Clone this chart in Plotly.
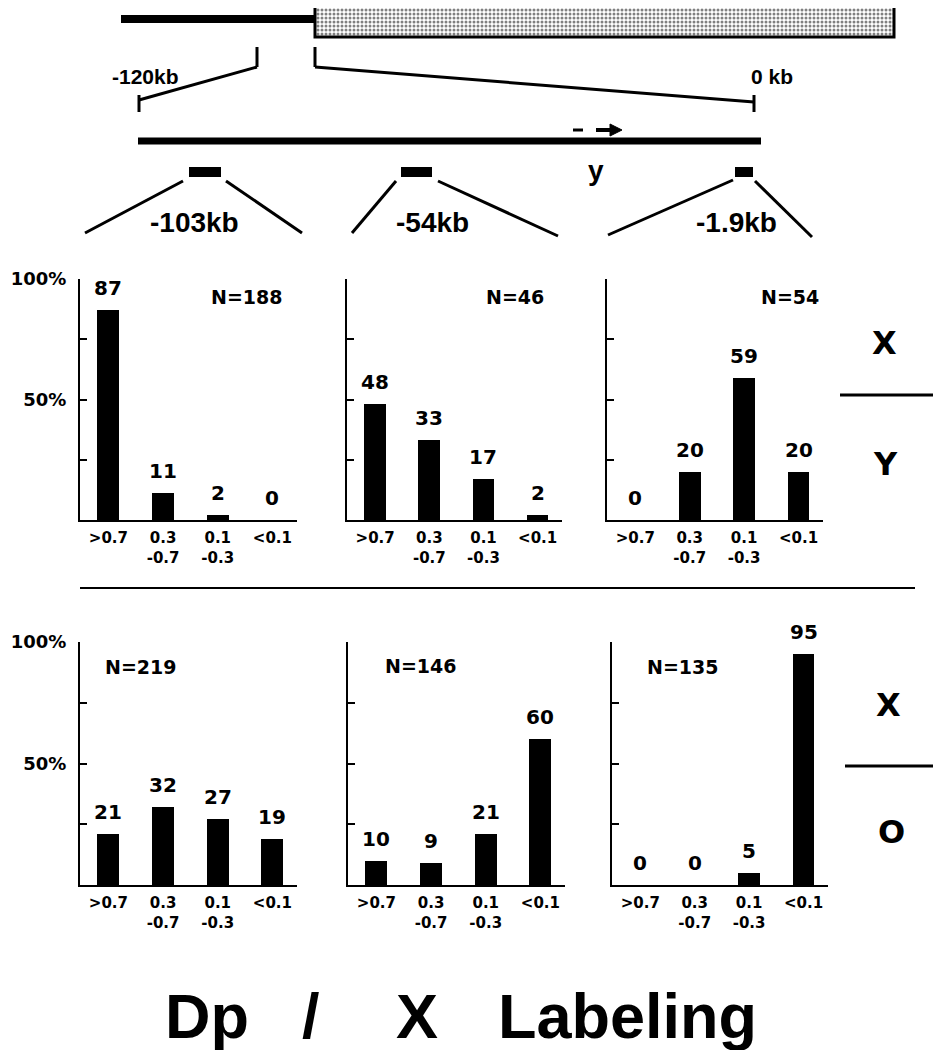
import plotly.graph_objects as go

# ---------------------------------------------------------
# data
# ---------------------------------------------------------
categories = [">0.7", "0.3<br>-0.7", "0.1<br>-0.3", "<0.1"]

# top row: X / Y
xy_103kb = [87, 11, 2, 0]
xy_54kb = [48, 33, 17, 2]
xy_1_9kb = [0, 20, 59, 20]
# bottom row: X / O
xo_103kb = [21, 32, 27, 19]
xo_54kb = [10, 9, 21, 60]
xo_1_9kb = [0, 0, 5, 95]

n_labels = ["N=188", "N=46", "N=54", "N=219", "N=146", "N=135"]
probe_labels = ["-103kb", "-54kb", "-1.9kb"]
ytick_vals = [50, 100]
ytick_text = ["50%", "100%"]

# ---------------------------------------------------------
# page geometry: the page body adds 8px, so the figure is 933x1042
# and all positions below are measured in page pixels
# ---------------------------------------------------------
OFF = 8
W, H = 941 - OFF, 1050 - OFF
HELV = "Liberation Sans, Arial, sans-serif"
WIDE = "DejaVu Sans, Verdana, sans-serif"


def px(x):
    return (x - OFF) / W


def py(y):
    return 1 - (y - OFF) / H


def bold(size, fam=WIDE):
    return dict(family=fam, size=size, color="black", weight="bold")


panels = [
    (xy_103kb, n_labels[0], (80, 297), (279, 520), (246, 297)),
    (xy_54kb, n_labels[1], (347, 562), (279, 520), (515, 297)),
    (xy_1_9kb, n_labels[2], (607, 823), (279, 520), (790, 297)),
    (xo_103kb, n_labels[3], (80, 297), (642, 885), (140, 667)),
    (xo_54kb, n_labels[4], (348, 565), (642, 885), (420, 666)),
    (xo_1_9kb, n_labels[5], (612, 828), (642, 885), (682, 667)),
]

fig = go.Figure()
annotations = []
shapes = []

for i, (vals, nlab, (x0, x1), (y0, y1), (nx, ny)) in enumerate(panels):
    k = "" if i == 0 else str(i + 1)
    fig.add_trace(go.Bar(x=categories, y=vals, marker=dict(color="black", line=dict(width=0)),
                         width=0.4, xaxis="x" + k, yaxis="y" + k, showlegend=False,
                         hoverinfo="skip"))
    first_col = i in (0, 3)
    fig.layout["xaxis" + k] = dict(
        domain=[px(x0), px(x1)], anchor="y" + k, type="category", automargin=False,
        range=[-0.52, 3.45], showline=True, linecolor="black", linewidth=2,
        ticks="", showgrid=False, zeroline=False, tickfont=bold(15),
        ticklabelstandoff=3, fixedrange=True)
    fig.layout["yaxis" + k] = dict(
        domain=[py(y1), py(y0)], anchor="x" + k, range=[0, 100], automargin=False,
        showline=True, linecolor="black", linewidth=2, showgrid=False, zeroline=False,
        tickvals=ytick_vals if first_col else [], ticktext=ytick_text if first_col else [],
        ticks="", tickfont=bold(18), ticklabelstandoff=8,
        minor=dict(tickvals=[25, 50, 75], ticks="inside", ticklen=7, tickwidth=2, tickcolor="black"),
        fixedrange=True)
    for c, v in zip(categories, vals):
        annotations.append(dict(x=c, y=v, xref="x" + k, yref="y" + k, text=str(v),
                                showarrow=False, xanchor="center", yanchor="bottom",
                                yshift=8, font=bold(20)))
    annotations.append(dict(x=nx, y=ny, xref="x7", yref="y7", text=nlab, showarrow=False,
                            xanchor="center", yanchor="middle", font=bold(19)))

# overlay axes in page pixels for the diagram and free text
fig.layout["xaxis7"] = dict(domain=[0, 1], range=[OFF, 941], visible=False, fixedrange=True,
                            anchor="y7", automargin=False)
fig.layout["yaxis7"] = dict(domain=[0, 1], range=[1050, OFF], visible=False, fixedrange=True,
                            anchor="x7", automargin=False)


def line(xa, ya, xb, yb, w=3):
    shapes.append(dict(type="line", xref="x7", yref="y7", x0=xa, y0=ya, x1=xb, y1=yb,
                       line=dict(color="black", width=w)))


def rect(xa, ya, xb, yb):
    shapes.append(dict(type="rect", xref="x7", yref="y7", x0=xa, y0=ya, x1=xb, y1=yb,
                       fillcolor="black", line=dict(width=0)))


def text(t, x, y, font):
    annotations.append(dict(x=x, y=y, xref="x7", yref="y7", text=t, showarrow=False,
                            xanchor="center", yanchor="middle", font=font))


# chromosome: thin arm + stippled box
line(121, 19, 316, 19, 8)
fig.add_trace(go.Scatter(x=[315, 894, 894, 315, 315], y=[3, 3, 37, 37, 3], xaxis="x7", yaxis="y7",
                         mode="lines", fill="toself", line=dict(color="black", width=3),
                         fillcolor="white",
                         fillpattern=dict(shape=".", fgcolor="black", bgcolor="white",
                                          size=4, solidity=0.45),
                         showlegend=False, hoverinfo="skip"))

# brackets
line(257, 47, 257, 67)
line(257, 67, 139, 100)
line(139, 95, 139, 112)
line(315, 47, 315, 67)
line(315, 67, 754, 102)
line(754, 95, 754, 112)

# expanded region + arrow
line(138, 141, 761, 141, 7)
line(573, 130, 583, 130, 3)
line(596, 130, 612, 130, 4)
shapes.append(dict(type="path", xref="x7", yref="y7",
                   path="M 610,124 L 622,130 L 610,136 Z",
                   fillcolor="black", line=dict(color="black", width=1)))

# probes
rect(189, 167, 221, 177)
rect(401, 167, 432, 177)
rect(735, 167, 753, 177)
line(183, 181, 85, 233)
line(226, 181, 302, 233)
line(396, 181, 352, 233)
line(438, 181, 558, 236)
line(733, 180, 608, 235)
line(755, 181, 812, 237)

for lab, cx in zip(probe_labels, [194, 432, 736]):
    text(lab, cx, 222, bold(28, HELV))
text("-120kb", 145, 76, bold(21, HELV))
text("0 kb", 772, 76, bold(21, HELV))
text("y", 596, 170, bold(28, HELV))

# separator between rows
line(80, 588, 915, 588, 2)

# X / Y and X / O
line(840, 395, 935, 395, 3)
line(845, 766, 940, 766, 3)
for t, cx, cy in [("X", 884, 343), ("Y", 885, 464), ("X", 888, 705), ("O", 891, 832)]:
    text(t, cx, cy, bold(32))

# bottom caption
for t, cx in [("Dp", 207), ("/", 311), ("X", 417), ("Labeling", 627)]:
    text(t, cx, 1016, bold(63, HELV))

fig.update_layout(width=W, height=H, margin=dict(l=0, r=0, t=0, b=0, autoexpand=False),
                  plot_bgcolor="rgba(0,0,0,0)", paper_bgcolor="white",
                  font=dict(family=WIDE, color="black"),
                  annotations=annotations, shapes=shapes, bargap=0)

fig.write_html("out.html")
